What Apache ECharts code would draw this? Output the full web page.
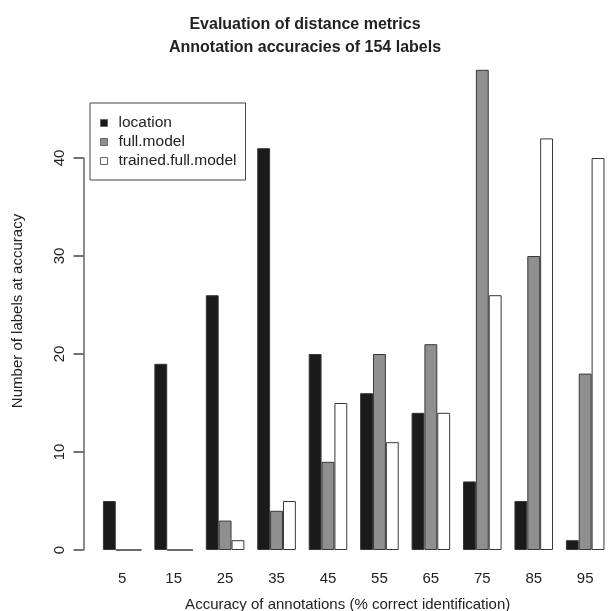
<!DOCTYPE html>
<html><head><meta charset="utf-8">
<script src="https://cdn.jsdelivr.net/npm/echarts@6/dist/echarts.min.js"></script>
<style>html,body{margin:0;padding:0;background:#fff}#c{width:610px;height:611px}</style>
</head><body><div id="c"></div>
<script>
const categories = ['5','15','25','35','45','55','65','75','85','95'];
const location_ = [5, 19, 26, 41, 20, 16, 14, 7, 5, 1];
const fullModel = [0, 0, 3, 4, 9, 20, 21, 49, 30, 18];
const trainedFullModel = [0, 0, 1, 5, 15, 11, 14, 26, 42, 40];
const yTicks = [0, 10, 20, 30, 40];
const seriesNames = ['location', 'full.model', 'trained.full.model'];

const font = 'Liberation Sans, Arial, Helvetica, sans-serif';
const chart = echarts.init(document.getElementById('c'), null, {renderer: 'canvas'});
const mk = (name, data, color) => ({
  name, type: 'bar', data, clip: false, barGap: '0%', barCategoryGap: '25%',
  itemStyle: {color, borderColor: '#383838', borderWidth: 1},
  emphasis: {disabled: true}, animation: false
});
chart.setOption({
  animation: false,
  backgroundColor: '#fff',
  title: {
    text: 'Evaluation of distance metrics\nAnnotation accuracies of 154 labels',
    left: 'center', top: 8,
    textStyle: {fontFamily: font, fontSize: 16, fontWeight: 'bold', color: '#222', lineHeight: 23}
  },
  legend: {
    orient: 'vertical', left: 90, top: 103,
    padding: [12, 9, 11, 10],
    borderColor: '#444', borderWidth: 1,
    itemWidth: 7, itemHeight: 7, itemGap: 3, icon: 'rect',
    itemStyle: {borderColor: '#666', borderWidth: 1},
    textStyle: {fontFamily: font, fontSize: 15.5, color: '#222', lineHeight: 15, padding: [0, 0, 0, 6]},
    data: seriesNames
  },
  grid: {left: 96.5, right: -0.9, top: 158, bottom: 61, containLabel: false, outerBoundsMode: 'none'},
  xAxis: {
    type: 'category', data: categories,
    axisLine: {show: false}, axisTick: {show: false}, splitLine: {show: false},
    axisLabel: {fontFamily: font, fontSize: 15, color: '#222', margin: 21},
    name: 'Accuracy of annotations (% correct identification)',
    nameLocation: 'middle', nameGap: 47,
    nameTextStyle: {fontFamily: font, fontSize: 15, color: '#222', padding: [0, 12, 0, 0]}
  },
  yAxis: {
    type: 'value', min: yTicks[0], max: yTicks[yTicks.length - 1], interval: 10,
    offset: 13,
    axisLine: {show: true, lineStyle: {color: '#666', width: 1.5}},
    axisTick: {show: true, inside: false, length: 10, lineStyle: {color: '#444', width: 1.5}},
    splitLine: {show: false},
    axisLabel: {fontFamily: font, fontSize: 15, color: '#222', rotate: 90, margin: 16},
    name: 'Number of labels at accuracy',
    nameLocation: 'middle', nameGap: 58, nameRotate: 90,
    nameTextStyle: {fontFamily: font, fontSize: 15, color: '#222', padding: [0, 0, 0, 86]}
  },
  series: [
    mk(seriesNames[0], location_, '#1a1a1a'),
    mk(seriesNames[1], fullModel, '#8f8f8f'),
    mk(seriesNames[2], trainedFullModel, '#ffffff')
  ]
});
</script></body></html>
